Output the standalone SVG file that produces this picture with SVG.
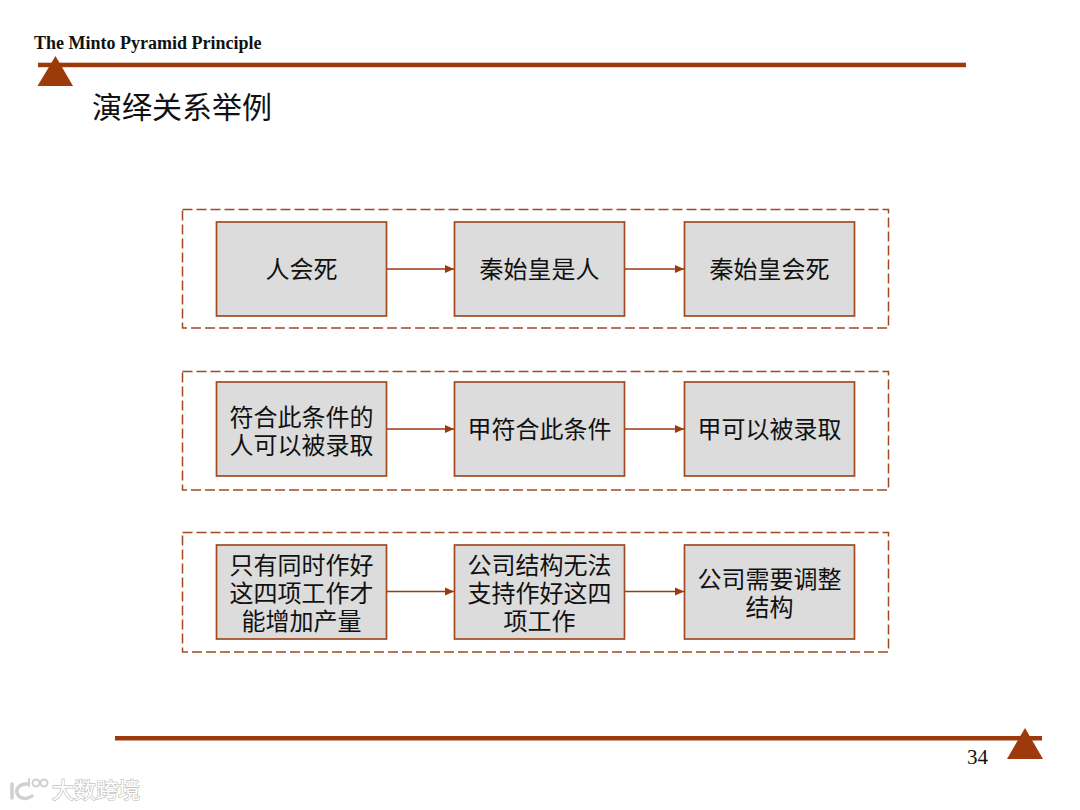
<svg xmlns="http://www.w3.org/2000/svg" width="1080" height="810" viewBox="0 0 1080 810">
<style>
.box{fill:#dcdcdc;stroke:#a04a22;stroke-width:1.7}
.frame{fill:none;stroke:#a04a22;stroke-width:1.5;stroke-dasharray:10 4}
.conn{stroke:#9c3a0c;stroke-width:1.7;fill:none;marker-end:url(#arrow)}
.rule{fill:#9c3a0c}
text{font-family:"Noto Sans CJK SC","Liberation Sans",sans-serif;fill:#111}
.t{font-size:24px;text-anchor:middle}
.h{font-family:"Liberation Serif",serif;font-weight:bold;font-size:18px}
.n{font-family:"Liberation Serif",serif;font-size:21px}
.wm{font-size:22px;fill:#fff;stroke:#c4c4c4;stroke-width:1.4;paint-order:stroke}
</style>
<defs><marker id="arrow" markerUnits="userSpaceOnUse" markerWidth="9" markerHeight="9" refX="9" refY="4.500" orient="auto"><path d="M0 0.500L9 4.500L0 8.500Z" fill="#9c3a0c"/></marker></defs>
<rect width="1080" height="810" fill="#fff"/>
<g id="header">
<text class="h" x="34" y="48.500">The Minto Pyramid Principle</text>
<rect class="rule" x="38" y="62.700" width="928" height="4.500"/>
<polygon class="rule" points="55.500,56 73,86 37.500,86"/>
<text x="92" y="118" font-size="30">演绎关系举例</text>
</g>
<g id="frames">
<rect class="frame" x="182.500" y="209.500" width="706" height="118.500"/>
<rect class="frame" x="182.500" y="371.500" width="706" height="118.500"/>
<rect class="frame" x="182.500" y="532.500" width="706" height="119.500"/>
</g>
<g id="connectors">
<path class="conn" d="M387 269H454"/><path class="conn" d="M625 269H684"/>
<path class="conn" d="M387 429H454"/><path class="conn" d="M625 429H684"/>
<path class="conn" d="M387 591.500H454"/><path class="conn" d="M625 591.500H684"/>
</g>
<g id="n1"><rect class="box" x="216.500" y="222" width="170" height="94"/><text class="t" x="301.500" y="278">人会死</text></g>
<g id="n2"><rect class="box" x="454.500" y="222" width="170" height="94"/><text class="t" x="539.500" y="278">秦始皇是人</text></g>
<g id="n3"><rect class="box" x="684.500" y="222" width="170" height="94"/><text class="t" x="769.500" y="278">秦始皇会死</text></g>
<g id="n4"><rect class="box" x="216.500" y="382" width="170" height="94"/><text class="t"><tspan x="301.500" y="425.500">符合此条件的</tspan><tspan x="301.500" y="453.500">人可以被录取</tspan></text></g>
<g id="n5"><rect class="box" x="454.500" y="382" width="170" height="94"/><text class="t" x="539.500" y="438">甲符合此条件</text></g>
<g id="n6"><rect class="box" x="684.500" y="382" width="170" height="94"/><text class="t" x="769.500" y="438">甲可以被录取</text></g>
<g id="n7"><rect class="box" x="216.500" y="545" width="170" height="94"/><text class="t"><tspan x="301.500" y="573.500">只有同时作好</tspan><tspan x="301.500" y="601.500">这四项工作才</tspan><tspan x="301.500" y="629.500">能增加产量</tspan></text></g>
<g id="n8"><rect class="box" x="454.500" y="545" width="170" height="94"/><text class="t"><tspan x="539.500" y="573.500">公司结构无法</tspan><tspan x="539.500" y="601.500">支持作好这四</tspan><tspan x="539.500" y="629.500">项工作</tspan></text></g>
<g id="n9"><rect class="box" x="684.500" y="545" width="170" height="94"/><text class="t"><tspan x="769.500" y="587.500">公司需要调整</tspan><tspan x="769.500" y="615.500">结构</tspan></text></g>
<g id="footer">
<rect class="rule" x="115" y="736" width="927" height="4.500"/>
<polygon class="rule" points="1025,728 1043,759 1007,759"/>
<text class="n" x="967" y="764">34</text>
</g>
<g id="watermark">
<g fill="none" stroke="#d0d0d0" stroke-width="3.500" stroke-linecap="round">
<path d="M12 784V798"/><path d="M27 784C18 784 16 790 17 793C19 799 27 800 32 796"/>
<path d="M29 779V786" stroke-width="2"/><circle cx="36" cy="783" r="3.500" stroke-width="2"/><circle cx="44" cy="783" r="3.500" stroke-width="2"/>
</g>
<text class="wm" x="52" y="798">大数跨境</text>
</g>
</svg>
